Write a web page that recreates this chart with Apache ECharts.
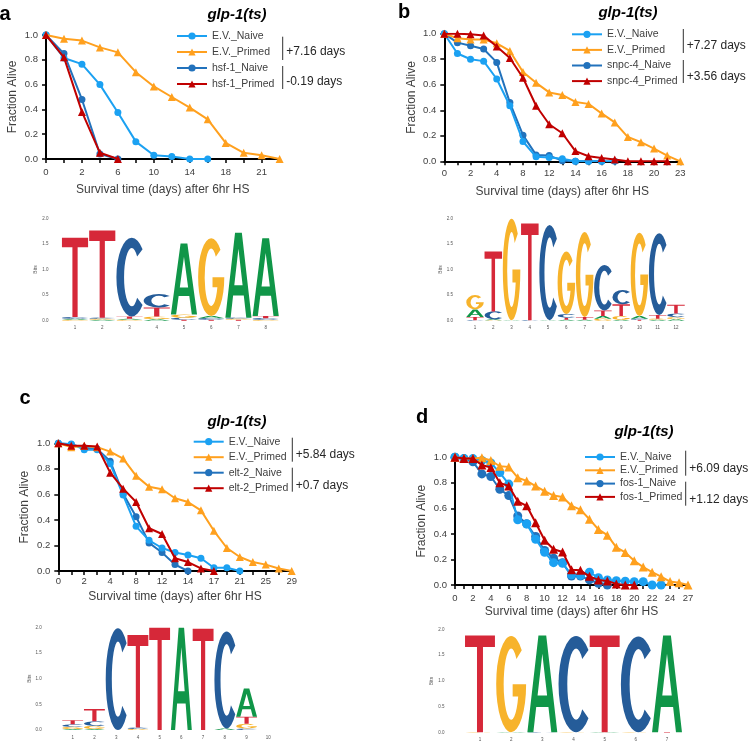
<!DOCTYPE html>
<html><head><meta charset="utf-8">
<script src="https://cdn.jsdelivr.net/npm/echarts@6/dist/echarts.min.js"></script>
<style>html,body{margin:0;padding:0;background:#fff}#c{width:750px;height:743px}</style>
</head><body><div id="c"></div>
<script>
// ---------- DATA ----------
const catsA = ['0','1','2','4','6','8','10','12','14','16','18','20','21','23'];
const aEvNaive   = [1.0,0.815,0.765,0.60,0.375,0.14,0.03,0.02,0.0,0.0];
const aEvPrimed  = [1.0,0.97,0.955,0.90,0.86,0.70,0.585,0.50,0.415,0.32,0.13,0.05,0.03,0.0];
const aMutNaive  = [1.0,0.85,0.48,0.04,0.0];
const aMutPrimed = [1.0,0.82,0.38,0.05,0.0];

const catsB = ['0','1','2','3','4','6','8','10','12','13','14','15','16','17','18','19','20','21','23'];
const bEvNaive   = [1.0,0.845,0.80,0.785,0.645,0.435,0.155,0.035,0.03,0.02,0.0,0.0,0.0,0.0];
const bEvPrimed  = [1.0,0.965,0.955,0.955,0.925,0.865,0.70,0.615,0.54,0.52,0.465,0.45,0.375,0.305,0.19,0.15,0.10,0.045,0.0];
const bMutNaive  = [1.0,0.93,0.905,0.88,0.775,0.46,0.205,0.05,0.045,0.005,0.0,0.0,0.0];
const bMutPrimed = [1.0,1.0,0.995,0.985,0.90,0.81,0.655,0.435,0.29,0.22,0.08,0.04,0.025,0.015,0.0,0.0,0.0,0.0];

const catsC = ['0','1','2','3','4','6','8','10','12','13','14','16','17','19','21','23','25','27','29'];
const cEvNaive   = [1.0,0.995,0.95,0.95,0.84,0.595,0.35,0.24,0.18,0.145,0.125,0.10,0.025,0.025,0.0];
const cEvPrimed  = [1.0,0.97,0.98,0.97,0.935,0.88,0.745,0.66,0.64,0.57,0.54,0.475,0.315,0.18,0.11,0.07,0.05,0.02,0.0];
const cMutNaive  = [1.0,0.99,0.965,0.955,0.86,0.605,0.425,0.22,0.145,0.05,0.0];
const cMutPrimed = [1.0,0.98,0.98,0.975,0.77,0.645,0.54,0.335,0.29,0.10,0.07,0.02,0.0];

const catsD = ['0','1','2','3','4','5','6','7','8','9','10','11','12','13','14','15','16','17','18','19','20','21','22','23','24','25','27'];
const dEvNaive   = [1.0,0.99,0.99,0.975,0.955,0.88,0.79,0.51,0.478,0.358,0.256,0.175,0.17,0.08,0.075,0.10,0.057,0.04,0.034,0.03,0.026,0.026,0.0,0.0];
const dEvPrimed  = [1.0,0.99,0.99,0.997,0.975,0.93,0.925,0.84,0.815,0.775,0.735,0.70,0.69,0.62,0.59,0.515,0.435,0.39,0.295,0.255,0.19,0.14,0.10,0.065,0.027,0.018,0.0];
const dMutNaive  = [1.0,0.99,0.965,0.87,0.85,0.75,0.70,0.54,0.48,0.38,0.27,0.21,0.175,0.07,0.07,0.04,0.013,0.0];
const dMutPrimed = [1.0,0.99,0.99,0.94,0.92,0.80,0.775,0.655,0.62,0.487,0.35,0.28,0.258,0.12,0.115,0.068,0.04,0.032,0.008,0.0,0.0];

const mutantNames = ['hsf-1','snpc-4','elt-2','fos-1'];
const annotations = [['+7.16 days','-0.19 days'],['+7.27 days','+3.56 days'],['+5.84 days','+0.7 days'],['+6.09 days','+1.12 days']];
const panelLetters = ['a','b','c','d'];
const strainTitle = 'glp-1(ts)';

// sequence logos: columns, each a bottom-to-top list of [letter, bits]
const logoA = [
  [['G',0.02],['A',0.02],['C',0.03],['T',1.55]],
  [['A',0.02],['G',0.02],['C',0.02],['T',1.70]],
  [['G',0.02],['A',0.02],['T',0.04],['C',1.54]],
  [['A',0.03],['G',0.05],['T',0.18],['C',0.26]],
  [['T',0.02],['C',0.04],['G',0.06],['A',1.39]],
  [['T',0.02],['C',0.03],['A',0.04],['G',1.52]],
  [['T',0.02],['G',0.02],['C',0.02],['A',1.66]],
  [['G',0.02],['C',0.03],['T',0.04],['A',1.52]]
];
const logoB = [
  [['C',0.01],['T',0.06],['A',0.15],['G',0.28]],
  [['G',0.01],['A',0.02],['C',0.15],['T',1.17]],
  [['A',0.01],['G',1.98]],
  [['C',0.01],['T',1.89]],
  [['A',0.01],['C',1.86]],
  [['A',0.02],['T',0.04],['C',0.07],['G',1.22]],
  [['A',0.02],['T',0.05],['G',1.66]],
  [['G',0.04],['A',0.05],['T',0.11],['C',0.89]],
  [['A',0.02],['G',0.07],['T',0.23],['C',0.28]],
  [['T',0.02],['C',0.02],['A',0.05],['G',1.63]],
  [['A',0.02],['G',0.02],['T',0.07],['C',1.60]],
  [['A',0.03],['G',0.04],['C',0.07],['T',0.17]]
];
const logoC = [
  [['A',0.02],['G',0.04],['C',0.05],['T',0.08]],
  [['A',0.02],['G',0.06],['C',0.09],['T',0.24]],
  [['C',1.98]],
  [['G',0.02],['C',0.03],['T',1.80]],
  [['T',1.99]],
  [['A',1.99]],
  [['T',1.97]],
  [['A',0.03],['C',1.89]],
  [['C',0.03],['G',0.09],['T',0.14],['A',0.55]],
  []
];
const logoD = [
  [['G',0.01],['T',1.87]],
  [['A',0.01],['G',1.86]],
  [['C',0.01],['A',1.87]],
  [['G',0.01],['C',1.86]],
  [['A',0.01],['T',1.87]],
  [['G',0.01],['C',1.85]],
  [['T',0.01],['A',1.87]]
];
const logoBitsTicks = ['0.0','0.5','1.0','1.5','2.0'];

// ---------- STYLE ----------
const FONT = '"Liberation Sans", Arial, sans-serif';
const C_LB = '#1BA1F2', C_OR = '#FFA01E', C_DB = '#2272BC', C_RD = '#C00000';
const LETTERS = ['A','C','G','T'];
const LETTER_COLORS = {A:'#109648', C:'#255C99', G:'#F7B32B', T:'#D62839'};
const LETTER_PATHS = {
  T: 'M0 0 H100 V12 H60 V100 H40 V12 H0 Z',
  A: 'M0 100 L37 0 H63 L100 100 H80 L70.4 74 H29.6 L20 100 Z M34.1 62 L65.9 62 L50 18.9 Z',
  C: 'M85.4 14.6 A50 50 0 1 0 85.4 85.4 L67.7 76.2 A25 37 0 1 1 67.7 23.8 Z',
  G: 'M85.4 14.6 A50 50 0 1 0 100 50 L55 50 L55 62.7 L73.5 62.7 A25 37 0 1 1 67.7 23.8 Z'
};

const panels = [
  {cats:catsA, ev:[aEvNaive,aEvPrimed], mut:[aMutNaive,aMutPrimed], grid:{left:46,top:35,width:233.6,height:124},
   yGap:27, xGap:25, xMargin:8, legend:{left:176,top:30,gap:4}, br:{x:282.7, l1:[36.7,60], t1:52, l2:[66,89], t2:82},
   title:[237,15], letter:[5,14], sym:[7,8]},
  {cats:catsB, ev:[bEvNaive,bEvPrimed], mut:[bMutNaive,bMutPrimed], grid:{left:444.3,top:33.7,width:236,height:127.6},
   yGap:26.5, xGap:24.5, xMargin:7, legend:{left:571,top:28.3,gap:3.6}, br:{x:683.3, l1:[29,53], t1:46, l2:[60,83], t2:76.3},
   title:[628,13], letter:[404,12], sym:[7,8]},
  {cats:catsC, ev:[cEvNaive,cEvPrimed], mut:[cMutNaive,cMutPrimed], grid:{left:58.3,top:443.3,width:233.4,height:127.7},
   yGap:27.3, xGap:19.7, xMargin:5.5, legend:{left:192.7,top:435.7,gap:3.5}, br:{x:292.3, l1:[437.7,461.7], t1:454.3, l2:[467.7,491.7], t2:485.3},
   title:[237,422], letter:[25,398], sym:[7,8]},
  {cats:catsD, ev:[dEvNaive,dEvPrimed], mut:[dMutNaive,dMutPrimed], grid:{left:455,top:457.3,width:233,height:127.7},
   yGap:27.3, xGap:20.7, xMargin:8.5, legend:{left:584,top:451,gap:1.3}, br:{x:685.7, l1:[450.7,475.7], t1:469, l2:[481.7,505.7], t2:499.3},
   title:[644,432], letter:[422,417], sym:[9,9]}
];
const logos = [
  {cols:logoA, grid:{left:61.4,top:218.3,width:217.9,height:102.4}, yMargin:13, nameGap:18},
  {cols:logoB, grid:{left:465.9,top:218.3,width:219.2,height:102.4}, yMargin:13, nameGap:18},
  {cols:logoC, grid:{left:61.8,top:627.3,width:217.4,height:102.7}, yMargin:20, nameGap:25},
  {cols:logoD, grid:{left:464.4,top:629.3,width:218.2,height:103.4}, yMargin:20, nameGap:25}
];

const grid=[], xAxis=[], yAxis=[], series=[], legend=[], graphic=[];

panels.forEach((p,i)=>{
  grid.push(Object.assign({containLabel:false, outerBoundsMode:'none'}, p.grid));
  xAxis.push({type:'category', gridIndex:i, data:p.cats, boundaryGap:false,
    axisLine:{lineStyle:{color:'#000',width:2}},
    axisTick:{show:true, interval:0, length:4, lineStyle:{color:'#000',width:1.5}},
    axisLabel:{interval:1, fontSize:9.5, color:'#404040', margin:p.xMargin, fontFamily:FONT},
    splitLine:{show:false},
    name:'Survival time (days) after 6hr HS', nameLocation:'middle', nameGap:p.xGap,
    nameTextStyle:{fontSize:12, color:'#404040', fontFamily:FONT, verticalAlign:'top'}});
  yAxis.push({type:'value', gridIndex:i, min:0, max:1, interval:0.2,
    axisLine:{show:true, lineStyle:{color:'#000',width:2}},
    axisTick:{show:true, length:4, lineStyle:{color:'#000',width:1.5}},
    axisLabel:{fontSize:9.5, color:'#404040', margin:8, fontFamily:FONT, formatter:v=>v.toFixed(1)},
    splitLine:{show:false},
    name:'Fraction Alive', nameLocation:'middle', nameGap:p.yGap, nameRotate:90,
    nameTextStyle:{fontSize:12, color:'#404040', fontFamily:FONT, verticalAlign:'bottom'}});
  const m = mutantNames[i];
  const defs = [
    {name:m+'_Naive', data:p.mut[0], color:C_DB, symbol:'circle', size:p.sym[0], z:2},
    {name:'E.V._Naive', data:p.ev[0], color:C_LB, symbol:'circle', size:p.sym[0], z:3},
    {name:'E.V._Primed', data:p.ev[1], color:C_OR, symbol:'triangle', size:p.sym[1], z:4},
    {name:m+'_Primed', data:p.mut[1], color:C_RD, symbol:'triangle', size:p.sym[1], z:5}
  ];
  defs.forEach(d=>series.push({type:'line', name:d.name, xAxisIndex:i, yAxisIndex:i, data:d.data,
    symbol:d.symbol, symbolSize:d.size, showAllSymbol:true, z:d.z,
    lineStyle:{color:d.color,width:2}, itemStyle:{color:d.color}, emphasis:{disabled:true}}));
  legend.push({data:['E.V._Naive','E.V._Primed',m+'_Naive',m+'_Primed'], orient:'vertical',
    left:p.legend.left, top:p.legend.top, itemWidth:30, itemHeight:9, itemGap:p.legend.gap, padding:0,
    selectedMode:false, textStyle:{fontSize:10.5, color:'#404040', fontFamily:FONT, lineHeight:12}});
  [[p.br.l1,p.br.t1,annotations[i][0]],[p.br.l2,p.br.t2,annotations[i][1]]].forEach(b=>{
    graphic.push({type:'line', shape:{x1:p.br.x,y1:b[0][0],x2:p.br.x,y2:b[0][1]}, style:{stroke:'#303030',lineWidth:1}});
    graphic.push({type:'text', x:p.br.x+3.5, y:b[1], style:{text:b[2], font:'12px '+FONT, fill:'#262626',
      textAlign:'left', textVerticalAlign:'middle', align:'left', verticalAlign:'middle'}});
  });
  graphic.push({type:'text', x:p.title[0], y:p.title[1], style:{text:strainTitle, font:'italic bold 15px '+FONT, fill:'#000',
    textAlign:'center', textVerticalAlign:'middle', align:'center', verticalAlign:'middle'}});
  graphic.push({type:'text', x:p.letter[0], y:p.letter[1], style:{text:panelLetters[i], font:'bold 20px '+FONT, fill:'#000',
    textAlign:'center', textVerticalAlign:'middle', align:'center', verticalAlign:'middle'}});
});

function renderLetter(params, api){
  const col = api.value(0), y0 = api.value(1), y1 = api.value(2), code = api.value(3);
  const pb = api.coord([col, y0]), pt = api.coord([col, y1]);
  const bw = api.size([1,0])[0]*0.96;
  const h = pb[1]-pt[1];
  if (!(h > 0.2)) return null;
  const L = LETTERS[code];
  return {type:'path', shape:{pathData:LETTER_PATHS[L], x:pb[0]-bw/2, y:pt[1], width:bw, height:h, layout:'cover'},
    style:{fill:LETTER_COLORS[L]}};
}

logos.forEach((lg,k)=>{
  const gi = 4+k;
  grid.push(Object.assign({containLabel:false, outerBoundsMode:'none'}, lg.grid));
  xAxis.push({type:'category', gridIndex:gi, data:lg.cols.map((c,j)=>String(j+1)), boundaryGap:true,
    axisLine:{show:false}, axisTick:{show:false}, splitLine:{show:false},
    axisLabel:{interval:0, fontSize:4.5, color:'#555', margin:5, fontFamily:FONT}});
  yAxis.push({type:'value', gridIndex:gi, min:0, max:2, interval:0.5,
    axisLine:{show:false}, axisTick:{show:false}, splitLine:{show:false},
    axisLabel:{fontSize:4.5, color:'#555', margin:lg.yMargin, fontFamily:FONT, formatter:v=>logoBitsTicks[Math.round(v*2)]},
    name:'Bits', nameLocation:'middle', nameGap:lg.nameGap, nameRotate:90,
    nameTextStyle:{fontSize:5, color:'#555', fontFamily:FONT}});
  const data=[];
  lg.cols.forEach((col,j)=>{
    let base=0;
    col.forEach(([L,h])=>{ data.push([j, base, base+h, LETTERS.indexOf(L)]); base+=h; });
  });
  series.push({type:'custom', xAxisIndex:gi, yAxisIndex:gi, data:data, renderItem:renderLetter,
    encode:{x:0, y:[1,2]}, silent:true, clip:false});
});

const chart = echarts.init(document.getElementById('c'), null, {renderer:'canvas'});
chart.setOption({backgroundColor:'#fff', animation:false, textStyle:{fontFamily:FONT},
  grid, xAxis, yAxis, series, legend, graphic});
</script></body></html>
